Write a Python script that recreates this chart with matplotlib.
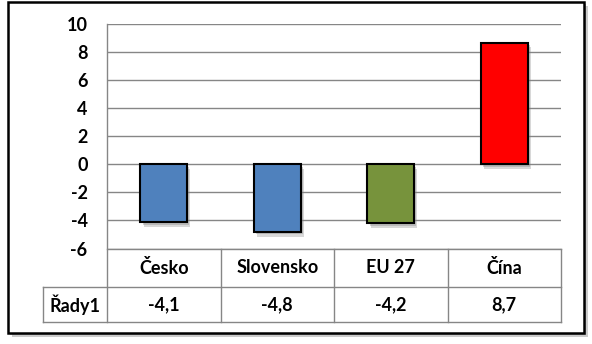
import matplotlib.pyplot as plt
import matplotlib.patheffects as pe
from matplotlib.patches import Rectangle
from matplotlib.transforms import blended_transform_factory

plt.rcParams['font.family'] = ['Lato', 'DejaVu Sans']

categories = ['Česko', 'Slovensko', 'EU 27', 'Čína']
values = [-4.1, -4.8, -4.2, 8.7]
colors = ['#4F81BD', '#4F81BD', '#77933C', '#FF0000']
series_name = 'Řady1'
yticks = [-6, -4, -2, 0, 2, 4, 6, 8, 10]

W, H = 592, 344
fig = plt.figure(figsize=(W / 100, H / 100), dpi=100)
fig.patch.set_facecolor('white')
fs = 13


def fx(px):
    return px / W


def fy(py):
    return 1 - py / H


# outer chart frame with a soft shadow
frame = Rectangle((fx(8), fy(333)), fx(584) - fx(8), fy(2) - fy(333),
                  transform=fig.transFigure, facecolor='white',
                  edgecolor='black', linewidth=1.8, zorder=-5)
frame.set_path_effects([pe.SimplePatchShadow(offset=(3, -3), shadow_rgbFace='#999999', alpha=0.5),
                        pe.SimplePatchShadow(offset=(1.5, -1.5), shadow_rgbFace='#999999', alpha=0.5),
                        pe.Normal()])
fig.patches.append(frame)

left, right, top, bottom = 107, 561, 24.3, 248.5
ax = fig.add_axes([fx(left), fy(bottom), fx(right) - fx(left), fy(top) - fy(bottom)])
ax.set_facecolor('none')
ax.set_zorder(2)

x = list(range(len(categories)))
bars = ax.bar(x, values, width=0.41, color=colors, edgecolor='black', linewidth=1.5, zorder=3)
for b in bars:
    b.set_path_effects([pe.SimplePatchShadow(offset=(2.5, -3.5), shadow_rgbFace='#808080', alpha=0.3),
                        pe.SimplePatchShadow(offset=(1.5, -2), shadow_rgbFace='#808080', alpha=0.35),
                        pe.Normal()])

ax.set_xlim(-0.5, len(categories) - 0.5)
ax.set_ylim(-6, 10)
ax.set_yticks(yticks)
ax.set_yticklabels([str(t) for t in yticks], fontsize=fs, fontweight='bold')
ax.set_xticks([])
ax.tick_params(axis='y', length=0, pad=14)
ax.grid(axis='y', color='#868686', linewidth=1.0, zorder=1)
ax.set_axisbelow(True)
for s in ['top', 'right', 'bottom', 'left']:
    ax.spines[s].set_visible(False)

# data table below the plot area
tr = blended_transform_factory(ax.transData, ax.transAxes)
ah = bottom - top
r0 = 0.0
r1 = -(287 - bottom) / ah
r2 = -(322 - bottom) / ah
xlab = -0.5 - (left - 43) / ((right - left) / len(categories))
line_kw = dict(color='#868686', linewidth=1.0, transform=tr, clip_on=False)

ax.plot([-0.5, -0.5], [r2, 1], **line_kw)
ax.plot([-0.5, 3.5], [r0, r0], **line_kw)
ax.plot([xlab, 3.5], [r1, r1], **line_kw)
ax.plot([xlab, 3.5], [r2, r2], **line_kw)
ax.plot([xlab, xlab], [r1, r2], **line_kw)
for i in range(len(categories)):
    ax.plot([i + 0.5, i + 0.5], [r0, r2], **line_kw)

for i, (c, v) in enumerate(zip(categories, values)):
    ax.text(i, (r0 + r1) / 2, c, transform=tr, ha='center', va='center',
            fontsize=fs, fontweight='bold')
    ax.text(i, (r1 + r2) / 2, f'{v:.1f}'.replace('.', ','), transform=tr,
            ha='center', va='center', fontsize=fs, fontweight='bold')
ax.text((xlab - 0.5) / 2, (r1 + r2) / 2, series_name, transform=tr,
        ha='center', va='center', fontsize=fs, fontweight='bold')

fig.savefig('out.png', dpi=100)
